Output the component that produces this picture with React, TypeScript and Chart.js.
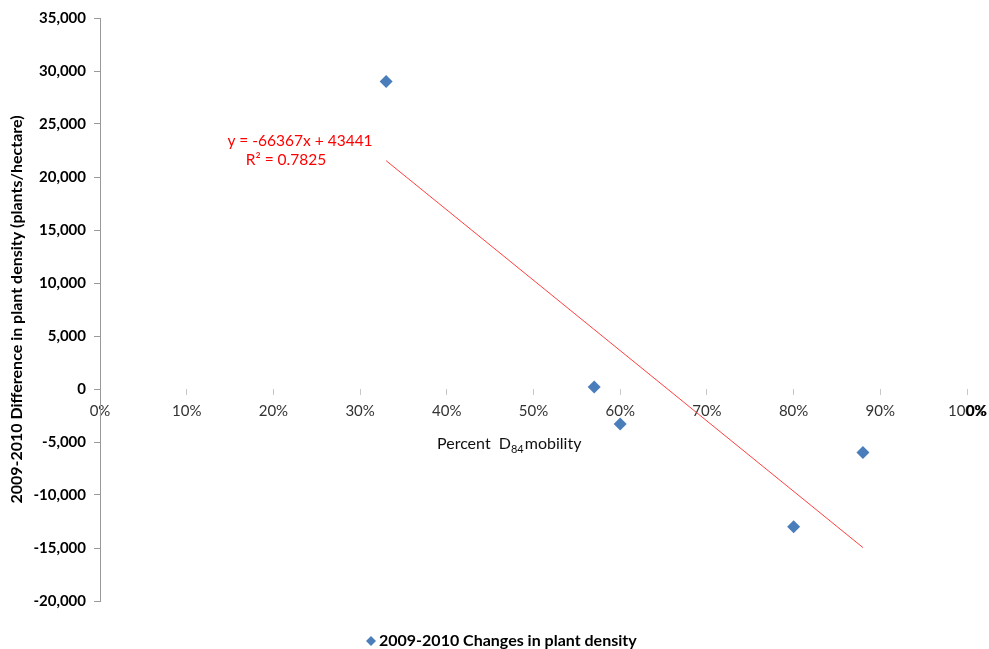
import React, { useEffect, useRef } from 'react';
import { Chart, registerables } from 'chart.js';

Chart.register(...registerables);

// ---- data ----
const mobility = [0.33, 0.57, 0.6, 0.8, 0.88];
const densityChange = [29000, 200, -3300, -13000, -6000];
const trendX = [0.33, 0.88];
const trendY = [21540, -14962];
const yMin = -20000;
const yMax = 35000;
const yStep = 5000;
const xMin = 0;
const xMax = 1;
const xStep = 0.1;
const seriesName = '2009-2010 Changes in plant density';
const yTitle = '2009-2010 Difference in plant density (plants/hectare)';
const equationLines = ['y = -66367x + 43441', 'R\u00B2 = 0.7825'];

const FONT = 'Lato, "Open Sans", sans-serif';
const BLUE = '#4A7EBB';

const textPlugin = {
  id: 'textPlugin',
  afterDraw(chart: any) {
    const ctx = chart.ctx;
    const xs = chart.scales.x;
    const ys = chart.scales.y;
    ctx.save();

    // y axis title
    ctx.save();
    ctx.translate(17, (chart.chartArea.top + chart.chartArea.bottom) / 2);
    ctx.rotate(-Math.PI / 2);
    ctx.font = 'bold 16px ' + FONT;
    ctx.fillStyle = '#000';
    ctx.textAlign = 'center';
    ctx.textBaseline = 'middle';
    ctx.fillText(yTitle, 0, 0);
    ctx.restore();

    // equation
    ctx.font = '15.5px ' + FONT;
    ctx.fillStyle = '#FF0000';
    ctx.textAlign = 'center';
    ctx.textBaseline = 'middle';
    ctx.fillText(equationLines[0], 300, 141);
    ctx.fillText(equationLines[1], 286, 160);

    // x axis title with subscript
    const y0 = ys.getPixelForValue(0);
    const ty = y0 + 55;
    ctx.fillStyle = '#111';
    ctx.textAlign = 'left';
    ctx.textBaseline = 'middle';
    ctx.font = '16px ' + FONT;
    let x = 437;
    const p1 = 'Percent  D';
    ctx.fillText(p1, x, ty);
    x += ctx.measureText(p1).width;
    ctx.font = '11px ' + FONT;
    ctx.fillText('84', x, ty + 5);
    x += ctx.measureText('84').width + 1;
    ctx.font = '16px ' + FONT;
    ctx.fillText('mobility', x, ty);

    // overlapping bold label at right end
    ctx.font = 'bold 15px ' + FONT;
    ctx.fillStyle = '#000';
    ctx.textAlign = 'left';
    ctx.fillText('0%', xs.getPixelForValue(1) - 1, y0 + 22);

    // legend
    const ly = 641;
    const lx = 371;
    ctx.fillStyle = BLUE;
    ctx.beginPath();
    ctx.moveTo(lx, ly - 5);
    ctx.lineTo(lx + 5, ly);
    ctx.lineTo(lx, ly + 5);
    ctx.lineTo(lx - 5, ly);
    ctx.closePath();
    ctx.fill();
    ctx.fillStyle = '#000';
    ctx.font = 'bold 16px ' + FONT;
    ctx.textAlign = 'left';
    ctx.fillText(seriesName, lx + 8, ly);

    ctx.restore();
  },
};

export default function App() {
  const ref = useRef<HTMLCanvasElement>(null);

  useEffect(() => {
    if (!ref.current) return;
    const chart = new Chart(ref.current, {
      type: 'scatter',
      data: {
        datasets: [
          {
            label: seriesName,
            data: mobility.map((m, i) => ({ x: m, y: densityChange[i] })),
            pointStyle: 'rectRot',
            pointRadius: 6.5,
            pointHoverRadius: 6.5,
            backgroundColor: BLUE,
            borderColor: BLUE,
            borderWidth: 0,
          },
          {
            label: 'trend',
            data: trendX.map((t, i) => ({ x: t, y: trendY[i] })),
            showLine: true,
            pointRadius: 0,
            borderColor: 'rgba(255,30,30,0.85)',
            borderWidth: 1,
          },
        ],
      },
      options: {
        animation: false,
        responsive: false,
        maintainAspectRatio: false,
        layout: { padding: { left: 0, top: 18, right: 22, bottom: 48 } },
        plugins: {
          legend: { display: false },
          tooltip: { enabled: false },
          title: { display: false },
        },
        scales: {
          x: {
            type: 'linear',
            position: { y: 0 } as any,
            min: xMin,
            max: xMax,
            afterFit: (s: any) => {
              s.paddingRight = 0;
              s.paddingLeft = 0;
            },
            ticks: {
              stepSize: xStep,
              callback: (v: any) => Math.round(Number(v) * 100) + '%',
              color: '#333',
              font: { family: FONT, size: 15 },
              padding: 7,
              maxRotation: 0,
            },
            grid: {
              drawOnChartArea: false,
              drawTicks: true,
              tickLength: 6,
              color: '#c8c8c8',
            },
            border: { display: false },
          },
          y: {
            type: 'linear',
            min: yMin,
            max: yMax,
            afterFit: (s: any) => {
              s.width = 100;
            },
            ticks: {
              stepSize: yStep,
              color: '#000',
              font: { family: FONT, size: 15, weight: 'bold' },
              padding: 8,
            },
            grid: {
              drawOnChartArea: false,
              drawTicks: true,
              tickLength: 6,
              color: '#999',
            },
            border: { display: true, color: '#999', width: 1 },
          },
        },
      },
      plugins: [textPlugin],
    });
    return () => chart.destroy();
  }, []);

  return (
    <div style={{ position: 'absolute', left: 0, top: 0, width: 989, height: 649, background: '#fff' }}>
      <canvas ref={ref} width={989} height={649} style={{ width: 989, height: 649 }} />
    </div>
  );
}
